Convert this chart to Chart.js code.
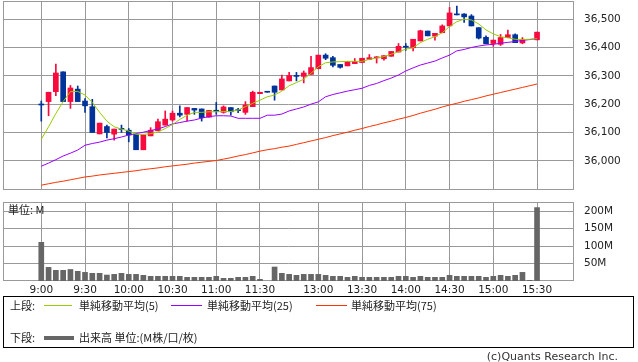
<!DOCTYPE html>
<html>
<head>
<meta charset="utf-8">
<script src="https://cdn.jsdelivr.net/npm/chart.js@4.4.1/dist/chart.umd.min.js"></script>
<style>
    body { margin: 0; background: #fff; width: 638px; height: 362px; position: relative; overflow: hidden;
           font-family: "Noto Sans CJK JP", "DejaVu Sans", sans-serif; color: #222; }
    #price-chart { position: absolute; left: 0; top: 0; }
    #volume-chart { position: absolute; left: 0; top: 195px; }
    .unit { position: absolute; left: 8px; top: 202px; font-size: 11px; line-height: 14px; }
    #legend { position: absolute; left: 3px; top: 296px; width: 629px; height: 50px; border: 1px solid #000; }
    #legend span { position: absolute; font-size: 11px; line-height: 14px; white-space: nowrap; }
    #legend i { position: absolute; display: block; }
    .copy { position: absolute; right: 20px; top: 350px; font-size: 11px; line-height: 14px; color: #333;
            font-family: "DejaVu Sans", sans-serif; }
</style>
</head>
<body>
<canvas id="price-chart" width="638" height="192"></canvas>
<canvas id="volume-chart" width="638" height="105"></canvas>
<div class="unit">単位: M</div>
<div id="legend">
    <span style="left:6px;top:1px">上段:</span>
    <i style="left:40px;top:8px;width:28px;height:1px;background:#99cc00"></i>
    <span style="left:75px;top:1px">単純移動平均(5)</span>
    <i style="left:167px;top:8px;width:31px;height:1px;background:#9900ff"></i>
    <span style="left:203px;top:1px">単純移動平均(25)</span>
    <i style="left:312px;top:8px;width:31px;height:1px;background:#ff3300"></i>
    <span style="left:347px;top:1px">単純移動平均(75)</span>
    <span style="left:6px;top:33px">下段:</span>
    <i style="left:40px;top:39px;width:30px;height:4px;background:#666"></i>
    <span style="left:75px;top:33px">出来高 単位:(M株/口/枚)</span>
</div>
<div class="copy">(c)Quants Research Inc.</div>

<script>
// 5分足 9:00 - 15:30 (index 31 = 昼休み明け前の空き)
const tickIdx = [0, 6, 12, 18, 24, 30, 38, 44, 50, 56, 62, 68];
const tickLabels = ["9:00", "9:30", "10:00", "10:30", "11:00", "11:30", "13:00", "13:30", "14:00", "14:30", "15:00", "15:30"];
const priceTicks = [36000, 36100, 36200, 36300, 36400, 36500];
const volumeTicks = [50, 100, 150, 200];

const open = [36200, 36209, 36244, 36314, 36209, 36253, 36211, 36191, 36095, 36121,
              36094, 36113, 36108, 36093, 36039, 36088, 36106, 36126, 36144, 36168,
              36164, 36185, 36183, 36154, 36177, 36171, 36188, 36178, 36171, 36191,
              36237, 36243, 36264, 36250, 36282, 36300, 36298, 36305, 36325, 36373,
              36364, 36340, 36335, 36343, 36347, 36358, 36363, 36360, 36369, 36384,
              36402, 36399, 36423, 36458, 36440, 36452, 36476, 36516, 36518, 36511,
              36470, 36436, 36414, 36411, 36435, 36445, 36416, null, 36427];
const high = [36211, 36242, 36341, 36314, 36266, 36264, 36220, 36217, 36133, 36126,
              36112, 36126, 36114, 36093, 36091, 36117, 36147, 36176, 36176, 36194,
              36188, 36185, 36183, 36178, 36206, 36194, 36188, 36185, 36209, 36246,
              36242, 36243, 36264, 36303, 36312, 36312, 36317, 36369, 36373, 36378,
              36369, 36340, 36350, 36361, 36362, 36375, 36368, 36371, 36386, 36414,
              36414, 36429, 36461, 36458, 36450, 36480, 36541, 36546, 36520, 36516,
              36470, 36441, 36426, 36446, 36461, 36448, 36435, null, 36454];
const low = [36140, 36159, 36230, 36209, 36185, 36209, 36171, 36100, 36095, 36081,
             36073, 36100, 36067, 36039, 36039, 36088, 36106, 36126, 36140, 36155,
             36140, 36164, 36140, 36154, 36164, 36168, 36161, 36170, 36164, 36191,
             36237, 36242, 36214, 36250, 36282, 36282, 36275, 36305, 36325, 36357,
             36331, 36327, 36335, 36343, 36347, 36358, 36345, 36355, 36369, 36384,
             36390, 36388, 36423, 36441, 36426, 36452, 36476, 36515, 36488, 36476,
             36430, 36413, 36404, 36407, 36435, 36417, 36413, null, 36427];
const close = [36197, 36242, 36310, 36209, 36257, 36209, 36194, 36100, 36133, 36100,
               36112, 36111, 36091, 36039, 36091, 36108, 36138, 36147, 36168, 36161,
               36188, 36179, 36152, 36178, 36175, 36190, 36173, 36177, 36197, 36242,
               36242, 36242, 36242, 36289, 36301, 36298, 36310, 36329, 36373, 36362,
               36337, 36330, 36350, 36351, 36362, 36364, 36367, 36371, 36386, 36404,
               36401, 36429, 36459, 36441, 36450, 36476, 36522, 36515, 36508, 36476,
               36433, 36413, 36426, 36435, 36445, 36417, 36429, null, 36454];

const ma5 = [36076, 36120, 36167, 36209, 36244, 36245, 36232, 36206, 36171, 36140,
             36120, 36112, 36105, 36094, 36093, 36096, 36102, 36114, 36128, 36146,
             36161, 36171, 36171, 36173, 36173, 36174, 36174, 36179, 36191, 36203,
             36214, 36226, 36232, 36246, 36265, 36276, 36288, 36309, 36332, 36346,
             36349, 36350, 36351, 36351, 36351, 36358, 36363, 36368, 36376, 36385,
             36394, 36399, 36417, 36429, 36438, 36452, 36474, 36491, 36500, 36497,
             36483, 36462, 36448, 36438, 36434, 36429, 36428, 36429, 36431];
const ma25 = [35981, 35992, 36004, 36017, 36027, 36038, 36055, 36061, 36066, 36073,
              36078, 36084, 36091, 36096, 36101, 36107, 36112, 36121, 36130, 36135,
              36140, 36144, 36151, 36156, 36159, 36159, 36158, 36150, 36150, 36150,
              36150, 36161, 36161, 36165, 36176, 36183, 36190, 36200, 36208, 36226,
              36234, 36240, 36246, 36251, 36256, 36266, 36273, 36283, 36292, 36303,
              36317, 36328, 36338, 36345, 36352, 36363, 36373, 36388, 36393, 36400,
              36405, 36409, 36411, 36415, 36418, 36421, 36425, 36428, 36431];
const ma75 = [35914, 35919, 35924, 35928, 35933, 35938, 35943, 35946, 35950, 35953,
              35956, 35959, 35962, 35965, 35969, 35972, 35975, 35979, 35982, 35985,
              35988, 35992, 35995, 35998, 36001, 36006, 36011, 36017, 36022, 36028,
              36034, 36039, 36043, 36048, 36052, 36058, 36064, 36070, 36076, 36082,
              36089, 36095, 36101, 36108, 36114, 36121, 36127, 36134, 36140, 36147,
              36153, 36160, 36168, 36175, 36182, 36190, 36197, 36203, 36210, 36216,
              36222, 36229, 36235, 36241, 36247, 36253, 36259, 36265, 36271];

// 出来高 (M)
const volume = [110.6, 39, 30.5, 30.5, 33, 27.6, 24.7, 21.9, 21.9, 17.1,
                19, 21.9, 19, 19, 16.2, 13.3, 13.3, 13.3, 13.3, 13.3,
                10.5, 10.5, 10.5, 10.5, 13.3, 7.6, 7.6, 10.5, 10.5, 13.3,
                4.8, null, 40, 21.9, 19, 16.2, 19, 19, 19, 16.2,
                13.3, 13.3, 10.5, 13.3, 10.5, 10.5, 10.5, 10.5, 10.5, 13.3,
                13.3, 10.5, 13.3, 10.5, 10.5, 10.5, 16.2, 13.3, 13.3, 13.3,
                13.3, 10.5, 13.3, 16.2, 13.3, 16.2, 24.7, 2, 210];

const UP = '#f70a3d';
const DOWN = '#003399';
const GRID = '#999999';
const X_MIN = -5.25, X_MAX = 73.07;

const candleIdx = open.map((v, i) => i).filter(i => open[i] !== null);
const candleColor = ctx => {
    const i = ctx.raw ? ctx.raw.x : 0;
    return close[i] >= open[i] ? UP : DOWN;
};

// プロット枠
const frame = {
    id: 'frame',
    beforeDatasetsDraw(chart) {
        const a = chart.chartArea;
        const c = chart.ctx;
        c.save();
        c.strokeStyle = GRID;
        c.lineWidth = 1;
        c.strokeRect(Math.round(a.left) + 0.5, Math.round(a.top) + 0.5,
                     Math.round(a.right - a.left) - 1, Math.round(a.bottom - a.top) - 1);
        c.restore();
    }
};

const tickFont = { family: 'DejaVu Sans', size: 10.5 };

// ラベル分の余白を付けない
function noPad(scale) {
    scale.paddingTop = 0;
    scale.paddingBottom = 0;
    scale.paddingLeft = 0;
    scale.paddingRight = 0;
}

function xAxis(showLabels) {
    return {
        type: 'linear',
        min: X_MIN,
        max: X_MAX,
        offset: false,
        afterBuildTicks: scale => { scale.ticks = tickIdx.map(v => ({ value: v })); },
        afterFit: scale => { scale.height = showLabels ? 19 : 0; noPad(scale); },
        grid: { color: GRID, lineWidth: 1, drawTicks: false, offset: false },
        border: { display: false },
        ticks: {
            display: showLabels,
            autoSkip: false,
            maxRotation: 0,
            padding: 3,
            color: '#222',
            font: tickFont,
            callback: v => tickLabels[tickIdx.indexOf(v)]
        }
    };
}

function yAxis(min, max, values, fmt) {
    return {
        position: 'right',
        min: min,
        max: max,
        afterBuildTicks: scale => { scale.ticks = values.map(v => ({ value: v })); },
        afterFit: scale => { scale.width = 64; noPad(scale); },
        grid: { color: GRID, lineWidth: 1, drawTicks: false },
        border: { display: false },
        ticks: { padding: 10, color: '#222', font: tickFont, callback: fmt }
    };
}

const priceChart = new Chart(document.getElementById('price-chart'), {
    type: 'bar',
    data: {
        datasets: [
            {
                type: 'line', label: '単純移動平均(5)',
                data: ma5.map((v, i) => ({ x: i, y: v })),
                borderColor: '#99cc00', borderWidth: 1, pointRadius: 0, order: 0
            },
            {
                type: 'line', label: '単純移動平均(25)',
                data: ma25.map((v, i) => ({ x: i, y: v })),
                borderColor: '#9900ff', borderWidth: 1, pointRadius: 0, order: 0
            },
            {
                type: 'line', label: '単純移動平均(75)',
                data: ma75.map((v, i) => ({ x: i, y: v })),
                borderColor: '#ff3300', borderWidth: 1, pointRadius: 0, order: 0
            },
            {
                label: 'wick',
                data: candleIdx.map(i => ({ x: i, y: [low[i], high[i]] })),
                backgroundColor: candleColor,
                barThickness: 1,
                grouped: false,
                order: 2
            },
            {
                label: 'body',
                data: candleIdx.map(i => ({ x: i, y: [open[i], close[i]] })),
                backgroundColor: candleColor,
                barThickness: 5,
                minBarLength: 1,
                grouped: false,
                order: 1
            }
        ]
    },
    options: {
        responsive: false,
        animation: false,
        devicePixelRatio: 1,
        layout: { padding: { left: 3, top: 1, right: 0, bottom: 2 } },
        plugins: { legend: { display: false }, tooltip: { enabled: false } },
        scales: {
            x: xAxis(false),
            y: yAxis(35897, 36564, priceTicks, v => v.toLocaleString('en-US'))
        }
    },
    plugins: [frame]
});

const volumeChart = new Chart(document.getElementById('volume-chart'), {
    type: 'bar',
    data: {
        datasets: [{
            label: '出来高',
            data: volume.map((v, i) => ({ x: i, y: v })).filter(p => p.y !== null),
            backgroundColor: '#666666',
            barThickness: 5,
            grouped: false
        }]
    },
    options: {
        responsive: false,
        animation: false,
        devicePixelRatio: 1,
        layout: { padding: { left: 3, top: 7, right: 0, bottom: 0 } },
        plugins: { legend: { display: false }, tooltip: { enabled: false } },
        scales: {
            x: xAxis(true),
            y: yAxis(0, 226, volumeTicks, v => v + 'M')
        }
    },
    plugins: [frame]
});
</script>
</body>
</html>
